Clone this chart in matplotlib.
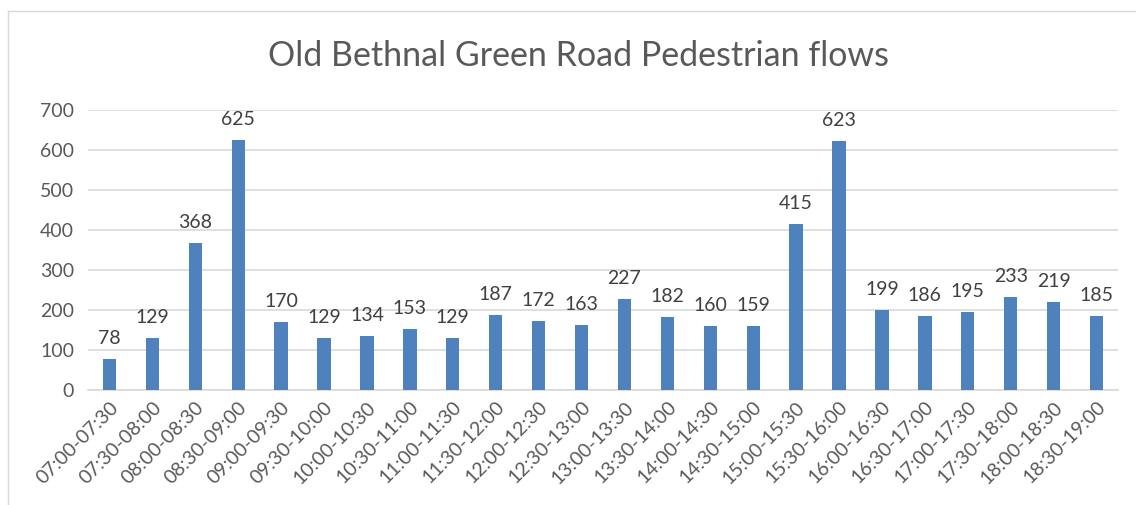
import numpy as np
import matplotlib
matplotlib.use("Agg")
from matplotlib import pyplot as plt
from matplotlib.lines import Line2D

plt.rcParams['font.family'] = ['Lato', 'DejaVu Sans']

periods = ["07:00-07:30", "07:30-08:00", "08:00-08:30", "08:30-09:00",
           "09:00-09:30", "09:30-10:00", "10:00-10:30", "10:30-11:00",
           "11:00-11:30", "11:30-12:00", "12:00-12:30", "12:30-13:00",
           "13:00-13:30", "13:30-14:00", "14:00-14:30", "14:30-15:00",
           "15:00-15:30", "15:30-16:00", "16:00-16:30", "16:30-17:00",
           "17:00-17:30", "17:30-18:00", "18:00-18:30", "18:30-19:00"]
flows = [78, 129, 368, 625, 170, 129, 134, 153, 129, 187, 172, 163,
         227, 182, 160, 159, 415, 623, 199, 186, 195, 233, 219, 185]
yticks = [0, 100, 200, 300, 400, 500, 600, 700]

fig = plt.figure(figsize=(11.36, 5.05), dpi=100)
ax = fig.add_axes([88/1136, 1-390/505, 1030/1136, 280/505])

x = np.arange(len(periods))
bars = ax.bar(x, flows, width=0.31, color="#4F81BD", zorder=3)
for xi, v in zip(x, flows):
    ax.text(xi, v + 30, str(v), ha="center", va="bottom", fontsize=14, color="#404040")

ax.set_xlim(-0.5, len(periods) - 0.5)
ax.set_ylim(0, 700)
ax.set_yticks(yticks)
ax.set_yticklabels([str(t) for t in yticks], fontsize=14, color="#595959")
ax.set_xticks(x)
ax.set_xticklabels(periods, rotation=45, ha="right", rotation_mode="anchor",
                   fontsize=14, color="#595959")
ax.tick_params(length=0, pad=10)
ax.tick_params(axis="x", pad=6)
ax.grid(axis="y", color="#D9D9D9", linewidth=1.2, zorder=0)
for s in ["top", "right", "left"]:
    ax.spines[s].set_visible(False)
ax.spines["bottom"].set_color("#D9D9D9")
ax.spines["bottom"].set_linewidth(1.2)

fig.text(578/1136, 1-56/505, "Old Bethnal Green Road Pedestrian flows",
         ha="center", va="center", fontsize=24.5, color="#595959")

# chart border (left and top edges visible)
fig.add_artist(Line2D([8/1136, 8/1136], [0, 1-11/505], transform=fig.transFigure,
                      color="#D9D9D9", linewidth=1))
fig.add_artist(Line2D([8/1136, 1], [1-11/505, 1-11/505], transform=fig.transFigure,
                      color="#D9D9D9", linewidth=1))

fig.savefig("out.png", dpi=100)
